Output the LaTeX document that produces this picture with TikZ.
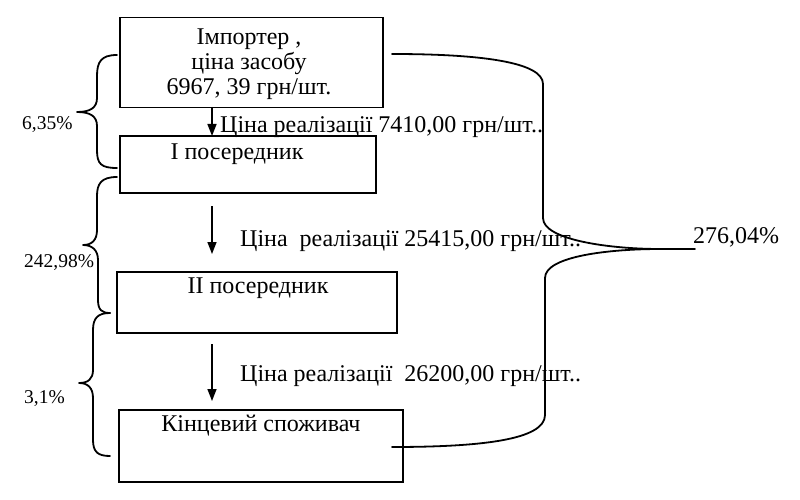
\documentclass[tikz,border=0pt]{standalone}
\usepackage{fontspec}
\setmainfont{Liberation Serif}
\usetikzlibrary{arrows.meta}
\begin{document}
\begin{tikzpicture}[x=1pt,y=-1pt,
  box/.style={draw,line width=1.5pt,inner sep=0pt,minimum width=#1},
  txt/.style={font=\fontsize{24}{25}\selectfont,inner sep=0pt},
  pct/.style={font=\fontsize{19.5}{22}\selectfont,inner sep=0pt,anchor=west},
  arr/.style={line width=1.5pt,-{Triangle[length=12pt,width=9pt]}},
  brace/.style={line width=1.8pt,line cap=round,line join=round}]
\useasboundingbox (0,0) rectangle (800,500);
% boxes
\node[box=263,minimum height=90] (imp) at (251.5,62.5) {};
\node[box=256,minimum height=57] (b1) at (248,164.5) {};
\node[box=280,minimum height=61] (b2) at (257,302.5) {};
\node[box=284,minimum height=72] (b3) at (261,446) {};
% box texts
\node[txt,align=center] (impt) at (249,64) {Імпортер ,\\ціна засобу\\6967, 39 грн/шт.};
\node[txt] (b1t) at (237,154) {І посередник};
\node[txt] (b2t) at (258,288) {ІІ посередник};
\node[txt] (b3t) at (261,426) {Кінцевий споживач};
% arrows
\coordinate (a1s) at (212,107);
\coordinate (a1e) at (212,136);
\coordinate (a2s) at (212,206);
\coordinate (a2e) at (212,254);
\coordinate (a3s) at (212,344);
\coordinate (a3e) at (212,401);
\draw[arr] (a1s) -- (a1e);
\draw[arr] (a2s) -- (a2e);
\draw[arr] (a3s) -- (a3e);
% price labels
\node[txt,anchor=base west] (l1) at (220,132) {Ціна реалізації 7410,00 грн/шт..};
\node[txt,anchor=base west] (l2) at (240,246) {Ціна\ \ реалізації 25415,00 грн/шт..};
\node[txt,anchor=base west] (l3) at (240,381) {Ціна реалізації\ \ 26200,00 грн/шт..};
% left braces
\draw[brace] (117,55) .. controls (101,55) and (97,62) .. (97,76) -- (97,98)
  .. controls (97,108) and (90,112) .. (77,112)
  .. controls (90,112) and (97,116) .. (97,126) -- (97,150)
  .. controls (97,164) and (101,168) .. (117,168);
\draw[brace] (117,177) .. controls (101,177) and (97,184) .. (97,196) -- (97,230)
  .. controls (97,240) and (92,245) .. (83,245)
  .. controls (92,245) and (98,250) .. (98,260) -- (98,300)
  .. controls (98,310) and (102,313) .. (110,313);
\draw[brace] (110,313) .. controls (98,313) and (93,318) .. (93,330) -- (93,370)
  .. controls (93,379) and (88,383) .. (79,383)
  .. controls (88,383) and (93,388) .. (93,398) -- (93,440)
  .. controls (93,452) and (98,456) .. (110,456);
\node[pct] (p1) at (22,125) {6,35\%};
\node[pct] (p2) at (24,263) {242,98\%};
\node[pct] (p3) at (24,399) {3,1\%};
% right brace
\coordinate (rt) at (392,54);
\coordinate (rb) at (392,447);
\coordinate (tip) at (695,249);
\draw[brace] (rt) .. controls (480,54) and (543,62) .. (543,84) -- (543,218)
  .. controls (543,240) and (610,249) .. (660,249) -- (tip);
\draw[brace] (660,249) .. controls (610,249) and (545,256) .. (545,278) -- (545,415)
  .. controls (545,440) and (480,447) .. (rb);
\node[txt,anchor=west] (p4) at (693,237) {276,04\%};
\end{tikzpicture}
\end{document}
